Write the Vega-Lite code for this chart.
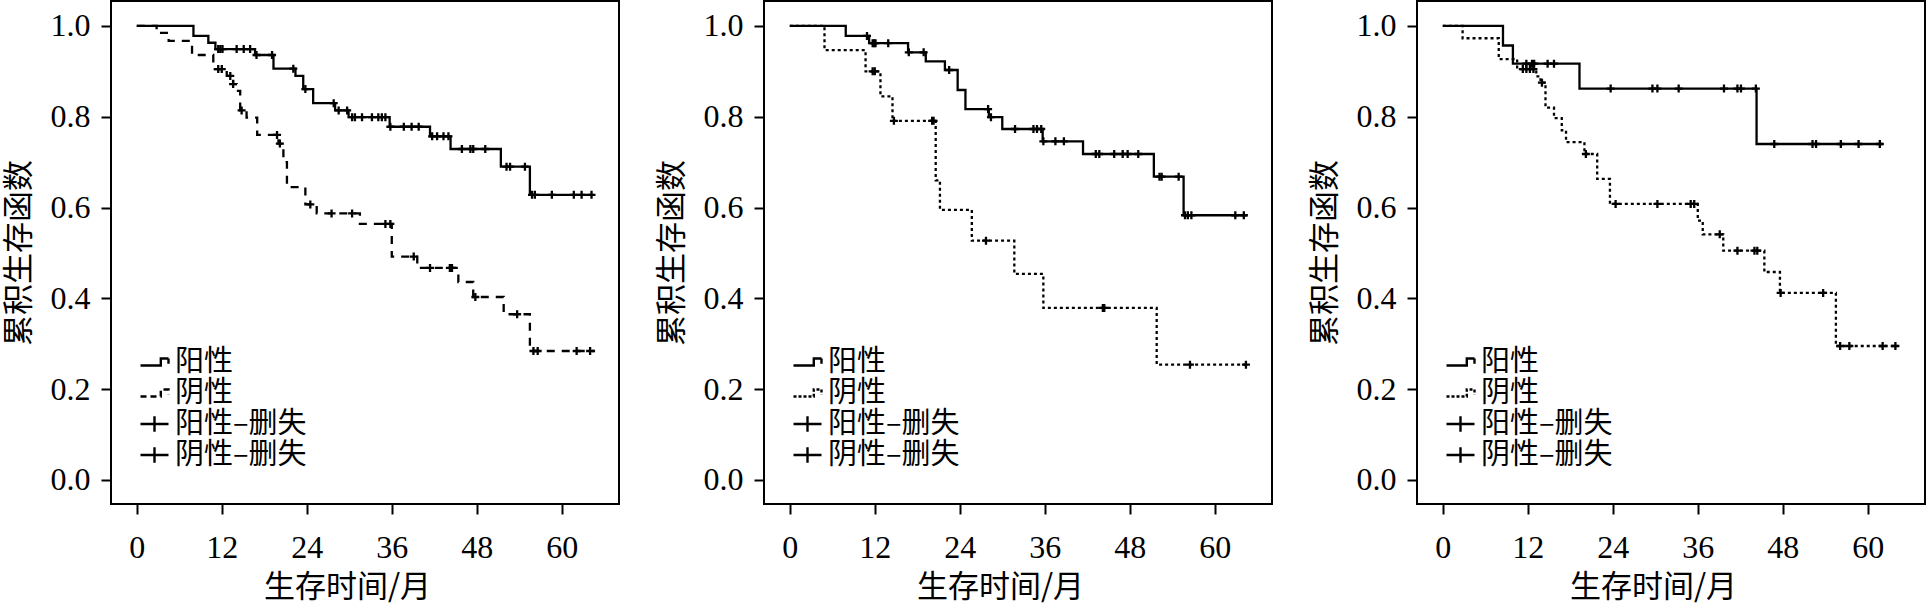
{
  "$schema": "https://vega.github.io/schema/vega-lite/v6.json",
  "padding": {"left": 2, "top": 0, "right": 0, "bottom": 0},
  "autosize": {"type": "pad"},
  "background": "white",
  "spacing": 145,
  "bounds": "flush",
  "datasets": {
    "curves": [
      {"panel": 1, "grp": "阳性", "t": 0, "s": 1.0},
      {"panel": 1, "grp": "阳性", "t": 8.0, "s": 0.978},
      {"panel": 1, "grp": "阳性", "t": 10.1, "s": 0.963},
      {"panel": 1, "grp": "阳性", "t": 11.1, "s": 0.949},
      {"panel": 1, "grp": "阳性", "t": 16.7, "s": 0.936},
      {"panel": 1, "grp": "阳性", "t": 19.3, "s": 0.906},
      {"panel": 1, "grp": "阳性", "t": 22.4, "s": 0.89},
      {"panel": 1, "grp": "阳性", "t": 23.5, "s": 0.861},
      {"panel": 1, "grp": "阳性", "t": 24.9, "s": 0.83},
      {"panel": 1, "grp": "阳性", "t": 28.0, "s": 0.814},
      {"panel": 1, "grp": "阳性", "t": 29.9, "s": 0.799},
      {"panel": 1, "grp": "阳性", "t": 35.7, "s": 0.778},
      {"panel": 1, "grp": "阳性", "t": 41.4, "s": 0.757},
      {"panel": 1, "grp": "阳性", "t": 44.3, "s": 0.729},
      {"panel": 1, "grp": "阳性", "t": 51.4, "s": 0.69},
      {"panel": 1, "grp": "阳性", "t": 55.5, "s": 0.628},
      {"panel": 1, "grp": "阳性", "t": 64.5, "s": 0.628},
      {"panel": 1, "grp": "阴性", "t": 0, "s": 1.0},
      {"panel": 1, "grp": "阴性", "t": 2.8, "s": 0.985},
      {"panel": 1, "grp": "阴性", "t": 4.5, "s": 0.967},
      {"panel": 1, "grp": "阴性", "t": 7.8, "s": 0.936},
      {"panel": 1, "grp": "阴性", "t": 10.8, "s": 0.905},
      {"panel": 1, "grp": "阴性", "t": 12.7, "s": 0.89},
      {"panel": 1, "grp": "阴性", "t": 13.6, "s": 0.872},
      {"panel": 1, "grp": "阴性", "t": 14.1, "s": 0.857},
      {"panel": 1, "grp": "阴性", "t": 14.6, "s": 0.814},
      {"panel": 1, "grp": "阴性", "t": 15.5, "s": 0.798},
      {"panel": 1, "grp": "阴性", "t": 17.0, "s": 0.76},
      {"panel": 1, "grp": "阴性", "t": 20.0, "s": 0.741},
      {"panel": 1, "grp": "阴性", "t": 20.7, "s": 0.7},
      {"panel": 1, "grp": "阴性", "t": 21.2, "s": 0.645},
      {"panel": 1, "grp": "阴性", "t": 23.8, "s": 0.607},
      {"panel": 1, "grp": "阴性", "t": 25.4, "s": 0.587},
      {"panel": 1, "grp": "阴性", "t": 31.5, "s": 0.564},
      {"panel": 1, "grp": "阴性", "t": 36.0, "s": 0.492},
      {"panel": 1, "grp": "阴性", "t": 39.6, "s": 0.467},
      {"panel": 1, "grp": "阴性", "t": 45.4, "s": 0.436},
      {"panel": 1, "grp": "阴性", "t": 47.5, "s": 0.403},
      {"panel": 1, "grp": "阴性", "t": 51.8, "s": 0.365},
      {"panel": 1, "grp": "阴性", "t": 55.5, "s": 0.284},
      {"panel": 1, "grp": "阴性", "t": 64.7, "s": 0.284},
      {"panel": 2, "grp": "阳性", "t": 0, "s": 1.0},
      {"panel": 2, "grp": "阳性", "t": 7.9, "s": 0.978},
      {"panel": 2, "grp": "阳性", "t": 11.2, "s": 0.962},
      {"panel": 2, "grp": "阳性", "t": 16.7, "s": 0.942},
      {"panel": 2, "grp": "阳性", "t": 19.2, "s": 0.922},
      {"panel": 2, "grp": "阳性", "t": 21.9, "s": 0.903},
      {"panel": 2, "grp": "阳性", "t": 23.7, "s": 0.859},
      {"panel": 2, "grp": "阳性", "t": 24.8, "s": 0.817},
      {"panel": 2, "grp": "阳性", "t": 28.1, "s": 0.799},
      {"panel": 2, "grp": "阳性", "t": 30.0, "s": 0.773},
      {"panel": 2, "grp": "阳性", "t": 35.7, "s": 0.746},
      {"panel": 2, "grp": "阳性", "t": 41.4, "s": 0.718},
      {"panel": 2, "grp": "阳性", "t": 51.4, "s": 0.668},
      {"panel": 2, "grp": "阳性", "t": 55.6, "s": 0.583},
      {"panel": 2, "grp": "阳性", "t": 64.6, "s": 0.583},
      {"panel": 2, "grp": "阴性", "t": 0, "s": 1.0},
      {"panel": 2, "grp": "阴性", "t": 4.9, "s": 0.947},
      {"panel": 2, "grp": "阴性", "t": 10.7, "s": 0.9},
      {"panel": 2, "grp": "阴性", "t": 12.8, "s": 0.845},
      {"panel": 2, "grp": "阴性", "t": 14.5, "s": 0.791},
      {"panel": 2, "grp": "阴性", "t": 20.6, "s": 0.66},
      {"panel": 2, "grp": "阴性", "t": 21.2, "s": 0.595},
      {"panel": 2, "grp": "阴性", "t": 25.7, "s": 0.527},
      {"panel": 2, "grp": "阴性", "t": 31.7, "s": 0.454},
      {"panel": 2, "grp": "阴性", "t": 35.8, "s": 0.379},
      {"panel": 2, "grp": "阴性", "t": 51.8, "s": 0.254},
      {"panel": 2, "grp": "阴性", "t": 64.6, "s": 0.254},
      {"panel": 3, "grp": "阳性", "t": 0, "s": 1.0},
      {"panel": 3, "grp": "阳性", "t": 8.5, "s": 0.957},
      {"panel": 3, "grp": "阳性", "t": 9.9, "s": 0.917},
      {"panel": 3, "grp": "阳性", "t": 19.3, "s": 0.862},
      {"panel": 3, "grp": "阳性", "t": 44.3, "s": 0.74},
      {"panel": 3, "grp": "阳性", "t": 62.1, "s": 0.74},
      {"panel": 3, "grp": "阴性", "t": 0, "s": 1.0},
      {"panel": 3, "grp": "阴性", "t": 2.8, "s": 0.973},
      {"panel": 3, "grp": "阴性", "t": 7.9, "s": 0.927},
      {"panel": 3, "grp": "阴性", "t": 10.5, "s": 0.905},
      {"panel": 3, "grp": "阴性", "t": 13.2, "s": 0.889},
      {"panel": 3, "grp": "阴性", "t": 13.8, "s": 0.875},
      {"panel": 3, "grp": "阴性", "t": 14.5, "s": 0.82},
      {"panel": 3, "grp": "阴性", "t": 15.7, "s": 0.797},
      {"panel": 3, "grp": "阴性", "t": 16.8, "s": 0.77},
      {"panel": 3, "grp": "阴性", "t": 17.4, "s": 0.744},
      {"panel": 3, "grp": "阴性", "t": 20.0, "s": 0.718},
      {"panel": 3, "grp": "阴性", "t": 21.8, "s": 0.663},
      {"panel": 3, "grp": "阴性", "t": 23.6, "s": 0.608},
      {"panel": 3, "grp": "阴性", "t": 36.0, "s": 0.571},
      {"panel": 3, "grp": "阴性", "t": 36.7, "s": 0.541},
      {"panel": 3, "grp": "阴性", "t": 39.6, "s": 0.505},
      {"panel": 3, "grp": "阴性", "t": 45.4, "s": 0.458},
      {"panel": 3, "grp": "阴性", "t": 47.6, "s": 0.412},
      {"panel": 3, "grp": "阴性", "t": 55.5, "s": 0.295},
      {"panel": 3, "grp": "阴性", "t": 64.2, "s": 0.295}
    ],
    "censor": [
      {"panel": 1, "cat": "阳性–删失", "t": 11.5, "s": 0.949},
      {"panel": 1, "cat": "阳性–删失", "t": 11.8, "s": 0.949},
      {"panel": 1, "cat": "阳性–删失", "t": 12.1, "s": 0.949},
      {"panel": 1, "cat": "阳性–删失", "t": 14.1, "s": 0.949},
      {"panel": 1, "cat": "阳性–删失", "t": 15.1, "s": 0.949},
      {"panel": 1, "cat": "阳性–删失", "t": 16.0, "s": 0.949},
      {"panel": 1, "cat": "阳性–删失", "t": 16.9, "s": 0.936},
      {"panel": 1, "cat": "阳性–删失", "t": 19.1, "s": 0.936},
      {"panel": 1, "cat": "阳性–删失", "t": 22.1, "s": 0.906},
      {"panel": 1, "cat": "阳性–删失", "t": 23.8, "s": 0.861},
      {"panel": 1, "cat": "阳性–删失", "t": 27.8, "s": 0.83},
      {"panel": 1, "cat": "阳性–删失", "t": 28.5, "s": 0.814},
      {"panel": 1, "cat": "阳性–删失", "t": 29.7, "s": 0.814},
      {"panel": 1, "cat": "阳性–删失", "t": 30.4, "s": 0.799},
      {"panel": 1, "cat": "阳性–删失", "t": 30.8, "s": 0.799},
      {"panel": 1, "cat": "阳性–删失", "t": 31.8, "s": 0.799},
      {"panel": 1, "cat": "阳性–删失", "t": 33.2, "s": 0.799},
      {"panel": 1, "cat": "阳性–删失", "t": 34.1, "s": 0.799},
      {"panel": 1, "cat": "阳性–删失", "t": 34.6, "s": 0.799},
      {"panel": 1, "cat": "阳性–删失", "t": 35.1, "s": 0.799},
      {"panel": 1, "cat": "阳性–删失", "t": 35.8, "s": 0.778},
      {"panel": 1, "cat": "阳性–删失", "t": 37.7, "s": 0.778},
      {"panel": 1, "cat": "阳性–删失", "t": 38.8, "s": 0.778},
      {"panel": 1, "cat": "阳性–删失", "t": 39.8, "s": 0.778},
      {"panel": 1, "cat": "阳性–删失", "t": 41.7, "s": 0.757},
      {"panel": 1, "cat": "阳性–删失", "t": 42.4, "s": 0.757},
      {"panel": 1, "cat": "阳性–删失", "t": 43.3, "s": 0.757},
      {"panel": 1, "cat": "阳性–删失", "t": 44.0, "s": 0.757},
      {"panel": 1, "cat": "阳性–删失", "t": 45.9, "s": 0.729},
      {"panel": 1, "cat": "阳性–删失", "t": 47.1, "s": 0.729},
      {"panel": 1, "cat": "阳性–删失", "t": 47.5, "s": 0.729},
      {"panel": 1, "cat": "阳性–删失", "t": 49.2, "s": 0.729},
      {"panel": 1, "cat": "阳性–删失", "t": 52.2, "s": 0.69},
      {"panel": 1, "cat": "阳性–删失", "t": 52.7, "s": 0.69},
      {"panel": 1, "cat": "阳性–删失", "t": 54.8, "s": 0.69},
      {"panel": 1, "cat": "阳性–删失", "t": 55.8, "s": 0.628},
      {"panel": 1, "cat": "阳性–删失", "t": 56.2, "s": 0.628},
      {"panel": 1, "cat": "阳性–删失", "t": 58.6, "s": 0.628},
      {"panel": 1, "cat": "阳性–删失", "t": 61.7, "s": 0.628},
      {"panel": 1, "cat": "阳性–删失", "t": 62.8, "s": 0.628},
      {"panel": 1, "cat": "阳性–删失", "t": 64.2, "s": 0.628},
      {"panel": 1, "cat": "阴性–删失", "t": 11.5, "s": 0.905},
      {"panel": 1, "cat": "阴性–删失", "t": 12.0, "s": 0.905},
      {"panel": 1, "cat": "阴性–删失", "t": 13.2, "s": 0.89},
      {"panel": 1, "cat": "阴性–删失", "t": 13.6, "s": 0.872},
      {"panel": 1, "cat": "阴性–删失", "t": 14.8, "s": 0.814},
      {"panel": 1, "cat": "阴性–删失", "t": 19.8, "s": 0.76},
      {"panel": 1, "cat": "阴性–删失", "t": 20.2, "s": 0.741},
      {"panel": 1, "cat": "阴性–删失", "t": 24.5, "s": 0.607},
      {"panel": 1, "cat": "阴性–删失", "t": 27.5, "s": 0.587},
      {"panel": 1, "cat": "阴性–删失", "t": 30.4, "s": 0.587},
      {"panel": 1, "cat": "阴性–删失", "t": 35.1, "s": 0.564},
      {"panel": 1, "cat": "阴性–删失", "t": 35.8, "s": 0.564},
      {"panel": 1, "cat": "阴性–删失", "t": 39.1, "s": 0.492},
      {"panel": 1, "cat": "阴性–删失", "t": 41.4, "s": 0.467},
      {"panel": 1, "cat": "阴性–删失", "t": 44.2, "s": 0.467},
      {"panel": 1, "cat": "阴性–删失", "t": 44.5, "s": 0.467},
      {"panel": 1, "cat": "阴性–删失", "t": 47.8, "s": 0.403},
      {"panel": 1, "cat": "阴性–删失", "t": 53.7, "s": 0.365},
      {"panel": 1, "cat": "阴性–删失", "t": 56.0, "s": 0.284},
      {"panel": 1, "cat": "阴性–删失", "t": 56.6, "s": 0.284},
      {"panel": 1, "cat": "阴性–删失", "t": 62.1, "s": 0.284},
      {"panel": 1, "cat": "阴性–删失", "t": 64.0, "s": 0.284},
      {"panel": 2, "cat": "阳性–删失", "t": 10.9, "s": 0.978},
      {"panel": 2, "cat": "阳性–删失", "t": 11.7, "s": 0.962},
      {"panel": 2, "cat": "阳性–删失", "t": 11.9, "s": 0.962},
      {"panel": 2, "cat": "阳性–删失", "t": 12.1, "s": 0.962},
      {"panel": 2, "cat": "阳性–删失", "t": 13.9, "s": 0.962},
      {"panel": 2, "cat": "阳性–删失", "t": 16.8, "s": 0.942},
      {"panel": 2, "cat": "阳性–删失", "t": 18.9, "s": 0.942},
      {"panel": 2, "cat": "阳性–删失", "t": 22.5, "s": 0.903},
      {"panel": 2, "cat": "阳性–删失", "t": 28.0, "s": 0.817},
      {"panel": 2, "cat": "阳性–删失", "t": 28.4, "s": 0.799},
      {"panel": 2, "cat": "阳性–删失", "t": 31.8, "s": 0.773},
      {"panel": 2, "cat": "阳性–删失", "t": 34.4, "s": 0.773},
      {"panel": 2, "cat": "阳性–删失", "t": 34.9, "s": 0.773},
      {"panel": 2, "cat": "阳性–删失", "t": 35.5, "s": 0.773},
      {"panel": 2, "cat": "阳性–删失", "t": 35.8, "s": 0.746},
      {"panel": 2, "cat": "阳性–删失", "t": 37.5, "s": 0.746},
      {"panel": 2, "cat": "阳性–删失", "t": 38.7, "s": 0.746},
      {"panel": 2, "cat": "阳性–删失", "t": 43.2, "s": 0.718},
      {"panel": 2, "cat": "阳性–删失", "t": 43.7, "s": 0.718},
      {"panel": 2, "cat": "阳性–删失", "t": 45.8, "s": 0.718},
      {"panel": 2, "cat": "阳性–删失", "t": 47.0, "s": 0.718},
      {"panel": 2, "cat": "阳性–删失", "t": 47.7, "s": 0.718},
      {"panel": 2, "cat": "阳性–删失", "t": 49.2, "s": 0.718},
      {"panel": 2, "cat": "阳性–删失", "t": 52.2, "s": 0.668},
      {"panel": 2, "cat": "阳性–删失", "t": 52.5, "s": 0.668},
      {"panel": 2, "cat": "阳性–删失", "t": 54.9, "s": 0.668},
      {"panel": 2, "cat": "阳性–删失", "t": 55.8, "s": 0.583},
      {"panel": 2, "cat": "阳性–删失", "t": 56.2, "s": 0.583},
      {"panel": 2, "cat": "阳性–删失", "t": 56.7, "s": 0.583},
      {"panel": 2, "cat": "阳性–删失", "t": 62.9, "s": 0.583},
      {"panel": 2, "cat": "阳性–删失", "t": 64.1, "s": 0.583},
      {"panel": 2, "cat": "阴性–删失", "t": 11.7, "s": 0.9},
      {"panel": 2, "cat": "阴性–删失", "t": 12.0, "s": 0.9},
      {"panel": 2, "cat": "阴性–删失", "t": 14.7, "s": 0.791},
      {"panel": 2, "cat": "阴性–删失", "t": 20.1, "s": 0.791},
      {"panel": 2, "cat": "阴性–删失", "t": 20.3, "s": 0.791},
      {"panel": 2, "cat": "阴性–删失", "t": 27.7, "s": 0.527},
      {"panel": 2, "cat": "阴性–删失", "t": 44.2, "s": 0.379},
      {"panel": 2, "cat": "阴性–删失", "t": 44.4, "s": 0.379},
      {"panel": 2, "cat": "阴性–删失", "t": 56.5, "s": 0.254},
      {"panel": 2, "cat": "阴性–删失", "t": 64.4, "s": 0.254},
      {"panel": 3, "cat": "阳性–删失", "t": 11.8, "s": 0.917},
      {"panel": 3, "cat": "阳性–删失", "t": 12.6, "s": 0.917},
      {"panel": 3, "cat": "阳性–删失", "t": 12.9, "s": 0.917},
      {"panel": 3, "cat": "阳性–删失", "t": 14.8, "s": 0.917},
      {"panel": 3, "cat": "阳性–删失", "t": 15.7, "s": 0.917},
      {"panel": 3, "cat": "阳性–删失", "t": 23.7, "s": 0.862},
      {"panel": 3, "cat": "阳性–删失", "t": 29.6, "s": 0.862},
      {"panel": 3, "cat": "阳性–删失", "t": 30.3, "s": 0.862},
      {"panel": 3, "cat": "阳性–删失", "t": 33.3, "s": 0.862},
      {"panel": 3, "cat": "阳性–删失", "t": 39.7, "s": 0.862},
      {"panel": 3, "cat": "阳性–删失", "t": 41.6, "s": 0.862},
      {"panel": 3, "cat": "阳性–删失", "t": 42.1, "s": 0.862},
      {"panel": 3, "cat": "阳性–删失", "t": 44.2, "s": 0.862},
      {"panel": 3, "cat": "阳性–删失", "t": 46.8, "s": 0.74},
      {"panel": 3, "cat": "阳性–删失", "t": 52.2, "s": 0.74},
      {"panel": 3, "cat": "阳性–删失", "t": 52.7, "s": 0.74},
      {"panel": 3, "cat": "阳性–删失", "t": 56.2, "s": 0.74},
      {"panel": 3, "cat": "阳性–删失", "t": 58.7, "s": 0.74},
      {"panel": 3, "cat": "阳性–删失", "t": 61.7, "s": 0.74},
      {"panel": 3, "cat": "阴性–删失", "t": 11.3, "s": 0.905},
      {"panel": 3, "cat": "阴性–删失", "t": 11.8, "s": 0.905},
      {"panel": 3, "cat": "阴性–删失", "t": 12.3, "s": 0.905},
      {"panel": 3, "cat": "阴性–删失", "t": 12.8, "s": 0.905},
      {"panel": 3, "cat": "阴性–删失", "t": 14.0, "s": 0.875},
      {"panel": 3, "cat": "阴性–删失", "t": 20.2, "s": 0.718},
      {"panel": 3, "cat": "阴性–删失", "t": 24.4, "s": 0.608},
      {"panel": 3, "cat": "阴性–删失", "t": 30.3, "s": 0.608},
      {"panel": 3, "cat": "阴性–删失", "t": 35.0, "s": 0.608},
      {"panel": 3, "cat": "阴性–删失", "t": 35.5, "s": 0.608},
      {"panel": 3, "cat": "阴性–删失", "t": 39.1, "s": 0.541},
      {"panel": 3, "cat": "阴性–删失", "t": 41.6, "s": 0.505},
      {"panel": 3, "cat": "阴性–删失", "t": 44.0, "s": 0.505},
      {"panel": 3, "cat": "阴性–删失", "t": 44.4, "s": 0.505},
      {"panel": 3, "cat": "阴性–删失", "t": 47.7, "s": 0.412},
      {"panel": 3, "cat": "阴性–删失", "t": 53.7, "s": 0.412},
      {"panel": 3, "cat": "阴性–删失", "t": 56.1, "s": 0.295},
      {"panel": 3, "cat": "阴性–删失", "t": 57.4, "s": 0.295},
      {"panel": 3, "cat": "阴性–删失", "t": 62.1, "s": 0.295},
      {"panel": 3, "cat": "阴性–删失", "t": 63.9, "s": 0.295}
    ]
  },
  "hconcat": [
    {
      "width": 508,
      "height": 503,
      "encoding": {
        "x": {"field": "t", "type": "quantitative", "scale": {"domain": [-3.64, 68.08], "nice": false, "zero": false}, "axis": {"values": [0, 12, 24, 36, 48, 60], "title": "生存时间/月"}},
        "y": {"field": "s", "type": "quantitative", "scale": {"domain": [-0.053, 1.055], "nice": false, "zero": false}, "axis": {"values": [0, 0.2, 0.4, 0.6, 0.8, 1], "format": ".1f", "title": "累积生存函数"}}
      },
      "layer": [
        {
          "data": {"name": "curves"},
          "transform": [{"filter": "datum.panel == 1 && datum.grp == '阳性'"}],
          "mark": {"type": "line", "interpolate": "step-after", "color": "black", "strokeWidth": 2.3}
        },
        {
          "data": {"name": "curves"},
          "transform": [{"filter": "datum.panel == 1 && datum.grp == '阴性'"}],
          "mark": {"type": "line", "interpolate": "step-after", "color": "black", "strokeWidth": 2.3, "strokeDash": [8, 7]}
        },
        {
          "data": {"name": "censor"},
          "transform": [{"filter": "datum.panel == 1"}],
          "mark": {"type": "point", "shape": "M-1,0H1M0,-1V1", "filled": false, "color": "black", "strokeWidth": 2.3, "size": 64, "opacity": 1}
        },
        {
          "data": {"name": "censor"},
          "transform": [{"filter": "datum.panel == 1"}],
          "mark": {"type": "point", "filled": false, "color": "black", "strokeWidth": 2.4, "opacity": 0},
          "encoding": {
            "shape": {
              "field": "cat", "type": "nominal",
              "scale": {"domain": ["阳性", "阴性", "阳性–删失", "阴性–删失"], "range": ["M-1,0.25H0.45V-0.25H1V0.12", "M-1,0.25H0.45V-0.25H1V0.12", "M-1,0H1M0,-0.55V0.55", "M-1,0H1M0,-0.55V0.55"]},
              "legend": {"orient": "none", "legendX": 28, "legendY": 346, "title": null, "clipHeight": 30}
            },
            "strokeDash": {
              "field": "cat", "type": "nominal",
              "scale": {"domain": ["阳性", "阴性", "阳性–删失", "阴性–删失"], "range": [[1, 0], [6, 4], [1, 0], [1, 0]]},
              "legend": {"orient": "none", "legendX": 28, "legendY": 346, "title": null, "clipHeight": 30}
            }
          }
        }
      ]
    },
    {
      "width": 508,
      "height": 503,
      "encoding": {
        "x": {"field": "t", "type": "quantitative", "scale": {"domain": [-3.64, 68.08], "nice": false, "zero": false}, "axis": {"values": [0, 12, 24, 36, 48, 60], "title": "生存时间/月"}},
        "y": {"field": "s", "type": "quantitative", "scale": {"domain": [-0.053, 1.055], "nice": false, "zero": false}, "axis": {"values": [0, 0.2, 0.4, 0.6, 0.8, 1], "format": ".1f", "title": "累积生存函数"}}
      },
      "layer": [
        {
          "data": {"name": "curves"},
          "transform": [{"filter": "datum.panel == 2 && datum.grp == '阳性'"}],
          "mark": {"type": "line", "interpolate": "step-after", "color": "black", "strokeWidth": 2.3}
        },
        {
          "data": {"name": "curves"},
          "transform": [{"filter": "datum.panel == 2 && datum.grp == '阴性'"}],
          "mark": {"type": "line", "interpolate": "step-after", "color": "black", "strokeWidth": 2.3, "strokeDash": [3, 3]}
        },
        {
          "data": {"name": "censor"},
          "transform": [{"filter": "datum.panel == 2"}],
          "mark": {"type": "point", "shape": "M-1,0H1M0,-1V1", "filled": false, "color": "black", "strokeWidth": 2.3, "size": 64, "opacity": 1}
        },
        {
          "data": {"name": "censor"},
          "transform": [{"filter": "datum.panel == 2"}],
          "mark": {"type": "point", "filled": false, "color": "black", "strokeWidth": 2.4, "opacity": 0},
          "encoding": {
            "shape": {
              "field": "cat", "type": "nominal",
              "scale": {"domain": ["阳性", "阴性", "阳性–删失", "阴性–删失"], "range": ["M-1,0.25H0.45V-0.25H1V0.12", "M-1,0.25H0.45V-0.25H1V0.12", "M-1,0H1M0,-0.55V0.55", "M-1,0H1M0,-0.55V0.55"]},
              "legend": {"orient": "none", "legendX": 28, "legendY": 346, "title": null, "clipHeight": 30}
            },
            "strokeDash": {
              "field": "cat", "type": "nominal",
              "scale": {"domain": ["阳性", "阴性", "阳性–删失", "阴性–删失"], "range": [[1, 0], [3, 2], [1, 0], [1, 0]]},
              "legend": {"orient": "none", "legendX": 28, "legendY": 346, "title": null, "clipHeight": 30}
            }
          }
        }
      ]
    },
    {
      "width": 508,
      "height": 503,
      "encoding": {
        "x": {"field": "t", "type": "quantitative", "scale": {"domain": [-3.64, 68.08], "nice": false, "zero": false}, "axis": {"values": [0, 12, 24, 36, 48, 60], "title": "生存时间/月"}},
        "y": {"field": "s", "type": "quantitative", "scale": {"domain": [-0.053, 1.055], "nice": false, "zero": false}, "axis": {"values": [0, 0.2, 0.4, 0.6, 0.8, 1], "format": ".1f", "title": "累积生存函数"}}
      },
      "layer": [
        {
          "data": {"name": "curves"},
          "transform": [{"filter": "datum.panel == 3 && datum.grp == '阳性'"}],
          "mark": {"type": "line", "interpolate": "step-after", "color": "black", "strokeWidth": 2.3}
        },
        {
          "data": {"name": "curves"},
          "transform": [{"filter": "datum.panel == 3 && datum.grp == '阴性'"}],
          "mark": {"type": "line", "interpolate": "step-after", "color": "black", "strokeWidth": 2.3, "strokeDash": [3, 3]}
        },
        {
          "data": {"name": "censor"},
          "transform": [{"filter": "datum.panel == 3"}],
          "mark": {"type": "point", "shape": "M-1,0H1M0,-1V1", "filled": false, "color": "black", "strokeWidth": 2.3, "size": 64, "opacity": 1}
        },
        {
          "data": {"name": "censor"},
          "transform": [{"filter": "datum.panel == 3"}],
          "mark": {"type": "point", "filled": false, "color": "black", "strokeWidth": 2.4, "opacity": 0},
          "encoding": {
            "shape": {
              "field": "cat", "type": "nominal",
              "scale": {"domain": ["阳性", "阴性", "阳性–删失", "阴性–删失"], "range": ["M-1,0.25H0.45V-0.25H1V0.12", "M-1,0.25H0.45V-0.25H1V0.12", "M-1,0H1M0,-0.55V0.55", "M-1,0H1M0,-0.55V0.55"]},
              "legend": {"orient": "none", "legendX": 28, "legendY": 346, "title": null, "clipHeight": 30}
            },
            "strokeDash": {
              "field": "cat", "type": "nominal",
              "scale": {"domain": ["阳性", "阴性", "阳性–删失", "阴性–删失"], "range": [[1, 0], [3, 2], [1, 0], [1, 0]]},
              "legend": {"orient": "none", "legendX": 28, "legendY": 346, "title": null, "clipHeight": 30}
            }
          }
        }
      ]
    }
  ],
  "resolve": {
    "scale": {"shape": "independent", "strokeDash": "independent"},
    "legend": {"shape": "independent", "strokeDash": "independent"}
  },
  "config": {
    "view": {"stroke": "black", "strokeWidth": 2},
    "axis": {
      "domain": false,
      "grid": false,
      "ticks": true,
      "tickColor": "black",
      "tickWidth": 2,
      "tickSize": 10,
      "labelFont": "Liberation Serif, Times New Roman, serif",
      "labelFontSize": 32,
      "labelColor": "black",
      "titleFont": "Noto Sans CJK SC",
      "titleFontSize": 31,
      "titleFontWeight": "normal",
      "titleColor": "black"
    },
    "axisX": {"labelPadding": 18, "titleX": 236, "titleY": 83, "titleBaseline": "middle", "titleAlign": "center"},
    "axisY": {"labelPadding": 11, "titleX": -92, "titleAngle": -90, "titleBaseline": "middle", "titleAlign": "center"},
    "legend": {
      "labelFont": "Noto Sans CJK SC",
      "labelFontSize": 29,
      "labelColor": "black",
      "symbolSize": 784,
      "symbolStrokeWidth": 2.4,
      "symbolStrokeColor": "black",
      "symbolOpacity": 1,
      "labelOffset": 5,
      "rowPadding": 1,
      "padding": 0
    }
  }
}
